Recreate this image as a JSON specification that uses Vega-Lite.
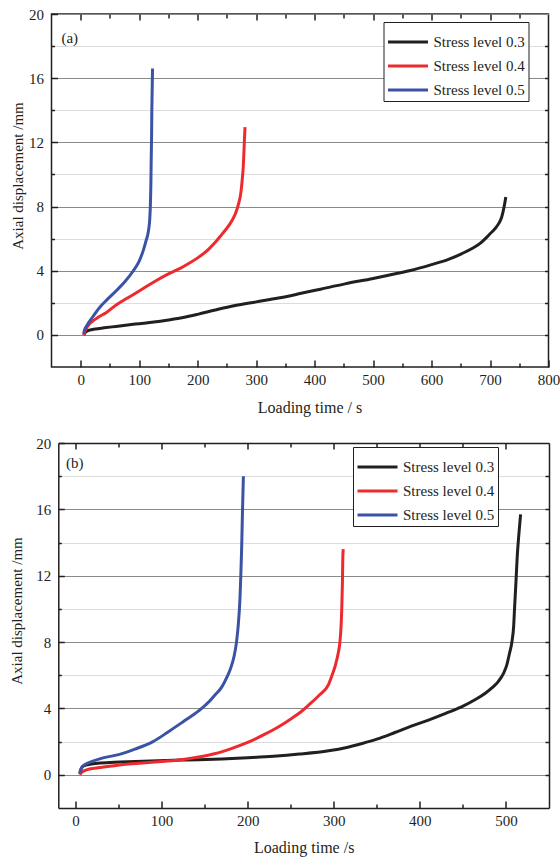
{
  "$schema": "https://vega.github.io/schema/vega-lite/v6.json",
  "padding": {"left": 8.5, "top": 6, "right": 0, "bottom": 2},
  "background": "white",
  "config": {
    "font": "Liberation Serif",
    "view": {"stroke": "#231f20", "strokeWidth": 1.5},
    "axis": {
      "labelFont": "Liberation Serif", "titleFont": "Liberation Serif",
      "labelFontSize": 15, "titleFontSize": 16, "titleFontWeight": "normal",
      "labelColor": "#231f20", "titleColor": "#231f20",
      "domain": false, "domainColor": "#231f20", "domainWidth": 1.5,
      "tickColor": "#231f20", "tickWidth": 1.5,
      "labelFlush": false, "labelOverlap": false
    },
    "legend": {
      "labelFont": "Liberation Serif", "labelFontSize": 15, "labelColor": "#231f20",
      "symbolType": "stroke", "symbolSize": 1600, "symbolStrokeWidth": 3,
      "clipHeight": 16, "rowPadding": 8, "padding": 3,
      "strokeColor": "#231f20", "fillColor": "white",
      "titleFontSize": 6, "titlePadding": 3
    }
  },
  "datasets": {
    "a": [
      {"t": 5, "d": 0.0, "s": "Stress level 0.3"},
      {"t": 7, "d": 0.12, "s": "Stress level 0.3"},
      {"t": 10, "d": 0.22, "s": "Stress level 0.3"},
      {"t": 15, "d": 0.3, "s": "Stress level 0.3"},
      {"t": 25, "d": 0.37, "s": "Stress level 0.3"},
      {"t": 40, "d": 0.44, "s": "Stress level 0.3"},
      {"t": 60, "d": 0.53, "s": "Stress level 0.3"},
      {"t": 80, "d": 0.62, "s": "Stress level 0.3"},
      {"t": 100, "d": 0.7, "s": "Stress level 0.3"},
      {"t": 125, "d": 0.8, "s": "Stress level 0.3"},
      {"t": 150, "d": 0.93, "s": "Stress level 0.3"},
      {"t": 175, "d": 1.08, "s": "Stress level 0.3"},
      {"t": 200, "d": 1.28, "s": "Stress level 0.3"},
      {"t": 230, "d": 1.55, "s": "Stress level 0.3"},
      {"t": 264, "d": 1.83, "s": "Stress level 0.3"},
      {"t": 300, "d": 2.06, "s": "Stress level 0.3"},
      {"t": 338, "d": 2.3, "s": "Stress level 0.3"},
      {"t": 373, "d": 2.56, "s": "Stress level 0.3"},
      {"t": 410, "d": 2.85, "s": "Stress level 0.3"},
      {"t": 452, "d": 3.18, "s": "Stress level 0.3"},
      {"t": 500, "d": 3.52, "s": "Stress level 0.3"},
      {"t": 530, "d": 3.75, "s": "Stress level 0.3"},
      {"t": 562, "d": 4.0, "s": "Stress level 0.3"},
      {"t": 600, "d": 4.38, "s": "Stress level 0.3"},
      {"t": 630, "d": 4.72, "s": "Stress level 0.3"},
      {"t": 652, "d": 5.07, "s": "Stress level 0.3"},
      {"t": 670, "d": 5.4, "s": "Stress level 0.3"},
      {"t": 683, "d": 5.7, "s": "Stress level 0.3"},
      {"t": 692, "d": 6.0, "s": "Stress level 0.3"},
      {"t": 700, "d": 6.3, "s": "Stress level 0.3"},
      {"t": 708, "d": 6.6, "s": "Stress level 0.3"},
      {"t": 715, "d": 6.95, "s": "Stress level 0.3"},
      {"t": 720, "d": 7.35, "s": "Stress level 0.3"},
      {"t": 724, "d": 7.97, "s": "Stress level 0.3"},
      {"t": 727, "d": 8.6, "s": "Stress level 0.3"},
      {"t": 5, "d": 0.0, "s": "Stress level 0.4"},
      {"t": 8, "d": 0.3, "s": "Stress level 0.4"},
      {"t": 12, "d": 0.55, "s": "Stress level 0.4"},
      {"t": 20, "d": 0.85, "s": "Stress level 0.4"},
      {"t": 30, "d": 1.1, "s": "Stress level 0.4"},
      {"t": 44, "d": 1.4, "s": "Stress level 0.4"},
      {"t": 60, "d": 1.85, "s": "Stress level 0.4"},
      {"t": 80, "d": 2.3, "s": "Stress level 0.4"},
      {"t": 102, "d": 2.78, "s": "Stress level 0.4"},
      {"t": 125, "d": 3.3, "s": "Stress level 0.4"},
      {"t": 150, "d": 3.8, "s": "Stress level 0.4"},
      {"t": 170, "d": 4.15, "s": "Stress level 0.4"},
      {"t": 184, "d": 4.44, "s": "Stress level 0.4"},
      {"t": 200, "d": 4.8, "s": "Stress level 0.4"},
      {"t": 219, "d": 5.35, "s": "Stress level 0.4"},
      {"t": 232, "d": 5.85, "s": "Stress level 0.4"},
      {"t": 241, "d": 6.25, "s": "Stress level 0.4"},
      {"t": 250, "d": 6.65, "s": "Stress level 0.4"},
      {"t": 259, "d": 7.15, "s": "Stress level 0.4"},
      {"t": 265, "d": 7.6, "s": "Stress level 0.4"},
      {"t": 270, "d": 8.18, "s": "Stress level 0.4"},
      {"t": 274, "d": 8.9, "s": "Stress level 0.4"},
      {"t": 276, "d": 9.6, "s": "Stress level 0.4"},
      {"t": 278, "d": 10.5, "s": "Stress level 0.4"},
      {"t": 279, "d": 11.3, "s": "Stress level 0.4"},
      {"t": 280, "d": 12.2, "s": "Stress level 0.4"},
      {"t": 281, "d": 12.95, "s": "Stress level 0.4"},
      {"t": 5, "d": 0.1, "s": "Stress level 0.5"},
      {"t": 7, "d": 0.35, "s": "Stress level 0.5"},
      {"t": 10, "d": 0.55, "s": "Stress level 0.5"},
      {"t": 20, "d": 1.1, "s": "Stress level 0.5"},
      {"t": 33, "d": 1.74, "s": "Stress level 0.5"},
      {"t": 45, "d": 2.2, "s": "Stress level 0.5"},
      {"t": 62, "d": 2.8, "s": "Stress level 0.5"},
      {"t": 75, "d": 3.3, "s": "Stress level 0.5"},
      {"t": 90, "d": 4.0, "s": "Stress level 0.5"},
      {"t": 100, "d": 4.6, "s": "Stress level 0.5"},
      {"t": 107, "d": 5.27, "s": "Stress level 0.5"},
      {"t": 112, "d": 5.9, "s": "Stress level 0.5"},
      {"t": 116, "d": 6.52, "s": "Stress level 0.5"},
      {"t": 118, "d": 7.2, "s": "Stress level 0.5"},
      {"t": 119, "d": 7.97, "s": "Stress level 0.5"},
      {"t": 120, "d": 9.5, "s": "Stress level 0.5"},
      {"t": 120.5, "d": 10.9, "s": "Stress level 0.5"},
      {"t": 121.2, "d": 12.5, "s": "Stress level 0.5"},
      {"t": 121.6, "d": 14.0, "s": "Stress level 0.5"},
      {"t": 122.2, "d": 15.3, "s": "Stress level 0.5"},
      {"t": 122.8, "d": 16.6, "s": "Stress level 0.5"}
    ],
    "b": [
      {"t": 5, "d": 0.05, "s": "Stress level 0.3"},
      {"t": 6, "d": 0.3, "s": "Stress level 0.3"},
      {"t": 8, "d": 0.48, "s": "Stress level 0.3"},
      {"t": 12, "d": 0.58, "s": "Stress level 0.3"},
      {"t": 26, "d": 0.7, "s": "Stress level 0.3"},
      {"t": 45, "d": 0.76, "s": "Stress level 0.3"},
      {"t": 69, "d": 0.8, "s": "Stress level 0.3"},
      {"t": 104, "d": 0.86, "s": "Stress level 0.3"},
      {"t": 125, "d": 0.89, "s": "Stress level 0.3"},
      {"t": 143, "d": 0.91, "s": "Stress level 0.3"},
      {"t": 170, "d": 0.96, "s": "Stress level 0.3"},
      {"t": 200, "d": 1.03, "s": "Stress level 0.3"},
      {"t": 230, "d": 1.12, "s": "Stress level 0.3"},
      {"t": 260, "d": 1.25, "s": "Stress level 0.3"},
      {"t": 294, "d": 1.45, "s": "Stress level 0.3"},
      {"t": 315, "d": 1.65, "s": "Stress level 0.3"},
      {"t": 333, "d": 1.89, "s": "Stress level 0.3"},
      {"t": 350, "d": 2.15, "s": "Stress level 0.3"},
      {"t": 371, "d": 2.55, "s": "Stress level 0.3"},
      {"t": 390, "d": 2.93, "s": "Stress level 0.3"},
      {"t": 410, "d": 3.3, "s": "Stress level 0.3"},
      {"t": 430, "d": 3.7, "s": "Stress level 0.3"},
      {"t": 449, "d": 4.11, "s": "Stress level 0.3"},
      {"t": 465, "d": 4.55, "s": "Stress level 0.3"},
      {"t": 476, "d": 4.92, "s": "Stress level 0.3"},
      {"t": 485, "d": 5.3, "s": "Stress level 0.3"},
      {"t": 491, "d": 5.62, "s": "Stress level 0.3"},
      {"t": 497, "d": 6.1, "s": "Stress level 0.3"},
      {"t": 501, "d": 6.63, "s": "Stress level 0.3"},
      {"t": 504, "d": 7.3, "s": "Stress level 0.3"},
      {"t": 507, "d": 8.04, "s": "Stress level 0.3"},
      {"t": 509, "d": 9.0, "s": "Stress level 0.3"},
      {"t": 510, "d": 10.05, "s": "Stress level 0.3"},
      {"t": 511.5, "d": 11.5, "s": "Stress level 0.3"},
      {"t": 513, "d": 13.08, "s": "Stress level 0.3"},
      {"t": 515, "d": 14.5, "s": "Stress level 0.3"},
      {"t": 517, "d": 15.7, "s": "Stress level 0.3"},
      {"t": 5, "d": 0.0, "s": "Stress level 0.4"},
      {"t": 7, "d": 0.15, "s": "Stress level 0.4"},
      {"t": 12, "d": 0.28, "s": "Stress level 0.4"},
      {"t": 26, "d": 0.42, "s": "Stress level 0.4"},
      {"t": 45, "d": 0.55, "s": "Stress level 0.4"},
      {"t": 65, "d": 0.66, "s": "Stress level 0.4"},
      {"t": 85, "d": 0.74, "s": "Stress level 0.4"},
      {"t": 104, "d": 0.82, "s": "Stress level 0.4"},
      {"t": 125, "d": 0.93, "s": "Stress level 0.4"},
      {"t": 143, "d": 1.07, "s": "Stress level 0.4"},
      {"t": 160, "d": 1.25, "s": "Stress level 0.4"},
      {"t": 181, "d": 1.58, "s": "Stress level 0.4"},
      {"t": 200, "d": 1.95, "s": "Stress level 0.4"},
      {"t": 220, "d": 2.45, "s": "Stress level 0.4"},
      {"t": 236, "d": 2.9, "s": "Stress level 0.4"},
      {"t": 251, "d": 3.4, "s": "Stress level 0.4"},
      {"t": 262, "d": 3.8, "s": "Stress level 0.4"},
      {"t": 271, "d": 4.21, "s": "Stress level 0.4"},
      {"t": 283, "d": 4.8, "s": "Stress level 0.4"},
      {"t": 294, "d": 5.45, "s": "Stress level 0.4"},
      {"t": 298, "d": 6.0, "s": "Stress level 0.4"},
      {"t": 302, "d": 6.63, "s": "Stress level 0.4"},
      {"t": 305, "d": 7.3, "s": "Stress level 0.4"},
      {"t": 307, "d": 7.94, "s": "Stress level 0.4"},
      {"t": 308.5, "d": 9.0, "s": "Stress level 0.4"},
      {"t": 309.3, "d": 10.05, "s": "Stress level 0.4"},
      {"t": 310, "d": 11.5, "s": "Stress level 0.4"},
      {"t": 310.5, "d": 13.08, "s": "Stress level 0.4"},
      {"t": 311, "d": 13.6, "s": "Stress level 0.4"},
      {"t": 5, "d": 0.1, "s": "Stress level 0.5"},
      {"t": 6, "d": 0.3, "s": "Stress level 0.5"},
      {"t": 8, "d": 0.5, "s": "Stress level 0.5"},
      {"t": 15, "d": 0.72, "s": "Stress level 0.5"},
      {"t": 30, "d": 0.99, "s": "Stress level 0.5"},
      {"t": 50, "d": 1.22, "s": "Stress level 0.5"},
      {"t": 69, "d": 1.55, "s": "Stress level 0.5"},
      {"t": 90, "d": 2.0, "s": "Stress level 0.5"},
      {"t": 108, "d": 2.6, "s": "Stress level 0.5"},
      {"t": 125, "d": 3.2, "s": "Stress level 0.5"},
      {"t": 143, "d": 3.85, "s": "Stress level 0.5"},
      {"t": 155, "d": 4.4, "s": "Stress level 0.5"},
      {"t": 162, "d": 4.81, "s": "Stress level 0.5"},
      {"t": 170, "d": 5.3, "s": "Stress level 0.5"},
      {"t": 176, "d": 5.9, "s": "Stress level 0.5"},
      {"t": 180, "d": 6.4, "s": "Stress level 0.5"},
      {"t": 184, "d": 7.1, "s": "Stress level 0.5"},
      {"t": 187, "d": 8.0, "s": "Stress level 0.5"},
      {"t": 189, "d": 9.0, "s": "Stress level 0.5"},
      {"t": 191, "d": 10.6, "s": "Stress level 0.5"},
      {"t": 192, "d": 12.0, "s": "Stress level 0.5"},
      {"t": 193, "d": 13.7, "s": "Stress level 0.5"},
      {"t": 194, "d": 16.0, "s": "Stress level 0.5"},
      {"t": 195, "d": 18.0, "s": "Stress level 0.5"}
    ]
  },
  "vconcat": [
    {
      "width": 497,
      "height": 353,
      "layer": [
        {
          "data": {"name": "a"},
          "mark": {"type": "line", "strokeWidth": 3, "interpolate": "monotone"},
          "encoding": {
            "x": {
              "field": "t", "type": "quantitative",
              "scale": {"domain": [-50, 800], "nice": false, "zero": false},
              "axis": {
                "title": "Loading time / s", "labelFont": "Liberation Serif", "titleX": 258,
                "values": [0, 50, 100, 150, 200, 250, 300, 350, 400, 450, 500, 550, 600, 650, 700, 750, 800],
                "labelExpr": "datum.value % 100 === 0 ? datum.label : ''",
                "tickSize": {"condition": {"test": "datum.value % 100 === 0", "value": -7}, "value": -4},
                "labelPadding": 12, "titlePadding": 9, "grid": false
              }
            },
            "y": {
              "field": "d", "type": "quantitative",
              "scale": {"domain": [-2, 20], "nice": false, "zero": false},
              "axis": {
                "title": "Axial displacement /mm", "labelFont": "Liberation Serif",
                "titleFontSize": 15, "titleY": 161.5,
                "values": [0, 2, 4, 6, 8, 10, 12, 14, 16, 18, 20],
                "labelExpr": "datum.value % 4 === 0 ? datum.label : ''",
                "tickSize": {"condition": {"test": "datum.value % 4 === 0", "value": -6}, "value": -3},
                "labelPadding": 14, "titlePadding": 3.5,
                "grid": true,
                "gridColor": {"condition": {"test": "datum.value % 4 === 0", "value": "#8a8a8a"}, "value": "#dcdcdc"},
                "gridWidth": 1.2
              }
            },
            "color": {
              "field": "s", "type": "nominal",
              "scale": {"domain": ["Stress level 0.3", "Stress level 0.4", "Stress level 0.5"], "range": ["#231f20", "#ee2a2e", "#3a53a4"]},
              "legend": {"orient": "none", "legendX": 332, "legendY": 8, "title": " "}
            }
          }
        },
        {
          "data": {"name": "a"},
          "mark": {"type": "line", "opacity": 0},
          "encoding": {
            "x": {
              "field": "t", "type": "quantitative",
              "scale": {"domain": [-50, 800], "nice": false, "zero": false},
              "axis": {
                "orient": "top", "title": null, "labels": false, "grid": false,
                "values": [0, 50, 100, 150, 200, 250, 300, 350, 400, 450, 500, 550, 600, 650, 700, 750],
                "tickSize": {"condition": {"test": "datum.value % 100 === 0", "value": -6}, "value": -4}
              }
            },
            "y": {
              "field": "d", "type": "quantitative",
              "scale": {"domain": [-2, 20], "nice": false, "zero": false},
              "axis": {
                "orient": "right", "title": null, "labels": false, "grid": false,
                "values": [0, 2, 4, 6, 8, 10, 12, 14, 16, 18],
                "tickSize": -4
              }
            }
          }
        },
        {
          "data": {"values": [{}]},
          "mark": {"type": "text", "align": "left", "baseline": "middle", "fontSize": 15, "font": "Liberation Serif", "color": "#231f20"},
          "encoding": {
            "x": {"datum": -33, "type": "quantitative", "axis": null},
            "y": {"datum": 18.5, "type": "quantitative", "axis": null},
            "text": {"value": "(a)"}
          }
        }
      ],
      "resolve": {"axis": {"x": "independent", "y": "independent"}}
    },
    {
      "width": 497.5,
      "height": 365,
      "view": {"stroke": null},
      "layer": [
        {
          "data": {"name": "b"},
          "mark": {"type": "line", "strokeWidth": 3, "interpolate": "monotone"},
          "encoding": {
            "x": {
              "field": "t", "type": "quantitative",
              "scale": {"domain": [-20, 550], "range": [6.8, 497.5], "nice": false, "zero": false},
              "axis": {
                "title": "Loading time /s", "labelFont": "Liberation Serif", "domain": true,
                "values": [0, 50, 100, 150, 200, 250, 300, 350, 400, 450, 500],
                "labelExpr": "datum.value % 100 === 0 ? datum.label : ''",
                "tickSize": {"condition": {"test": "datum.value % 100 === 0", "value": -7}, "value": -4},
                "labelPadding": 12.5, "titlePadding": 8, "grid": false
              }
            },
            "y": {
              "field": "d", "type": "quantitative",
              "scale": {"domain": [-2, 20], "nice": false, "zero": false},
              "axis": {
                "title": "Axial displacement /mm", "labelFont": "Liberation Serif", "domain": true,
                "titleFontSize": 15, "titleY": 167.5,
                "offset": -6.8,
                "values": [0, 2, 4, 6, 8, 10, 12, 14, 16, 18, 20],
                "labelExpr": "datum.value % 4 === 0 ? datum.label : ''",
                "tickSize": {"condition": {"test": "datum.value % 4 === 0", "value": -6}, "value": -3},
                "labelPadding": 13.5, "titlePadding": 11,
                "grid": true,
                "gridColor": {"condition": {"test": "datum.value % 4 === 0", "value": "#8a8a8a"}, "value": "#dcdcdc"},
                "gridWidth": 1.2
              }
            },
            "color": {
              "field": "s", "type": "nominal",
              "scale": {"domain": ["Stress level 0.3", "Stress level 0.4", "Stress level 0.5"], "range": ["#231f20", "#ee2a2e", "#3a53a4"]},
              "legend": {"orient": "none", "legendX": 301.5, "legendY": 4, "title": " "}
            }
          }
        },
        {
          "data": {"name": "b"},
          "mark": {"type": "line", "opacity": 0},
          "encoding": {
            "x": {
              "field": "t", "type": "quantitative",
              "scale": {"domain": [-20, 550], "range": [6.8, 497.5], "nice": false, "zero": false},
              "axis": {
                "orient": "top", "title": null, "labels": false, "grid": false, "domain": true,
                "values": [0, 50, 100, 150, 200, 250, 300, 350, 400, 450, 500],
                "tickSize": {"condition": {"test": "datum.value % 100 === 0", "value": -6}, "value": -4}
              }
            },
            "y": {
              "field": "d", "type": "quantitative",
              "scale": {"domain": [-2, 20], "nice": false, "zero": false},
              "axis": {
                "orient": "right", "title": null, "labels": false, "grid": false, "domain": true,
                "values": [0, 2, 4, 6, 8, 10, 12, 14, 16, 18],
                "tickSize": -4
              }
            }
          }
        },
        {
          "data": {"values": [{}]},
          "mark": {"type": "text", "align": "left", "baseline": "middle", "fontSize": 15, "font": "Liberation Serif", "color": "#231f20"},
          "encoding": {
            "x": {"datum": -11, "type": "quantitative", "axis": null},
            "y": {"datum": 18.8, "type": "quantitative", "axis": null},
            "text": {"value": "(b)"}
          }
        }
      ],
      "resolve": {"axis": {"x": "independent", "y": "independent"}}
    }
  ],
  "spacing": 20,
  "resolve": {"scale": {"color": "independent"}, "legend": {"color": "independent"}}
}
